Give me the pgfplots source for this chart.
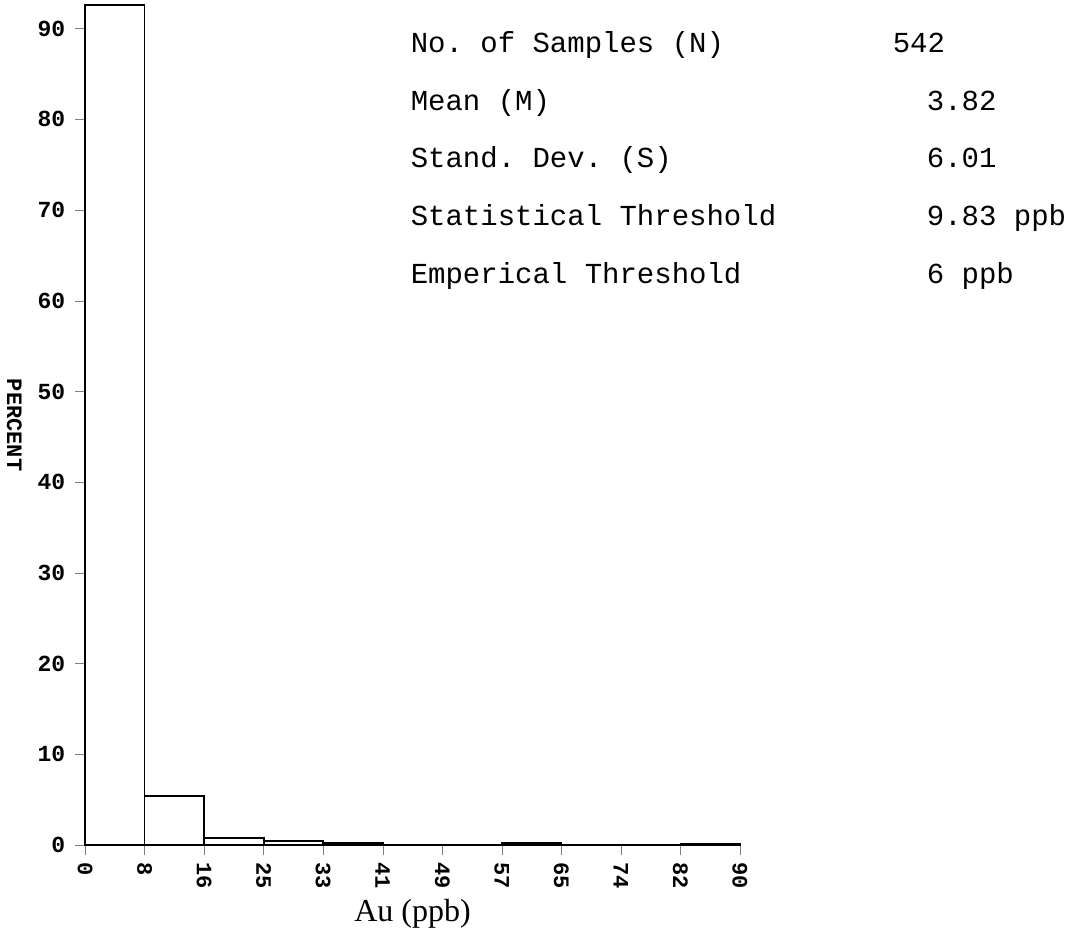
\documentclass[border=0pt]{standalone}
\usepackage{fontspec}
\setmainfont{Liberation Serif}
\setmonofont{Liberation Mono}
\usepackage{pgfplots}
\pgfplotsset{compat=1.18}
\begin{document}
\begin{tikzpicture}
\begin{axis}[
    scale only axis,
    width=327.5pt, height=420pt,
    xmin=0, xmax=11, ymin=0, ymax=92.6,
    axis x line*=bottom, axis y line*=left,
    tick align=outside, major tick length=5pt,
    xtick={0,...,11},
    xticklabels={0,8,16,25,33,41,49,57,65,74,82,90},
    ytick={0,10,...,90},
    xticklabel style={rotate=-90, anchor=west, font=\fontsize{11}{11}\selectfont\ttfamily\bfseries},
    yticklabel style={font=\fontsize{11.5}{11.5}\selectfont\ttfamily\bfseries, inner sep=4.5pt},
    /pgf/number format/assume math mode=true,
    xlabel={Au (ppb)},
    xlabel style={font=\fontsize{16}{16}\selectfont, yshift=2pt},
    ylabel={PERCENT},
    ylabel style={at={(axis description cs:-0.095,0.5)}, rotate=180, anchor=north, inner sep=0pt,
                  font=\fontsize{11}{11}\selectfont\ttfamily\bfseries},
    clip=false,
    line width=0.9pt,
    ]
% histogram, bins of Au (ppb)
\addplot[ybar interval, fill=white, draw=black, line width=0.9pt] coordinates {
    (0,92.6) (1,5.4) (2,0.8) (3,0.45) (4,0.25) (5,0) (6,0.05)
    (7,0.2) (8,0) (9,0) (10,0.1) (11,0.1)};
% stats block
\begin{scope}[every node/.style={anchor=base west, font=\fontsize{14.5}{14.5}\selectfont\ttfamily, inner sep=0pt}]
\node at (rel axis cs:0.496,0.943) {No. of Samples (N)};
\node at (rel axis cs:0.496,0.874) {Mean (M)};
\node at (rel axis cs:0.496,0.806) {Stand. Dev. (S)};
\node at (rel axis cs:0.496,0.737) {Statistical Threshold};
\node at (rel axis cs:0.496,0.669) {Emperical Threshold};
\node at (rel axis cs:1.232,0.943) {542};
\node at (rel axis cs:1.284,0.874) {3.82};
\node at (rel axis cs:1.284,0.806) {6.01};
\node at (rel axis cs:1.284,0.737) {9.83 ppb};
\node at (rel axis cs:1.284,0.669) {6 ppb};
\end{scope}
\path (rel axis cs:-0.1298,-0.1036) rectangle (rel axis cs:1.5176,1.006);
\end{axis}
\end{tikzpicture}
\end{document}
